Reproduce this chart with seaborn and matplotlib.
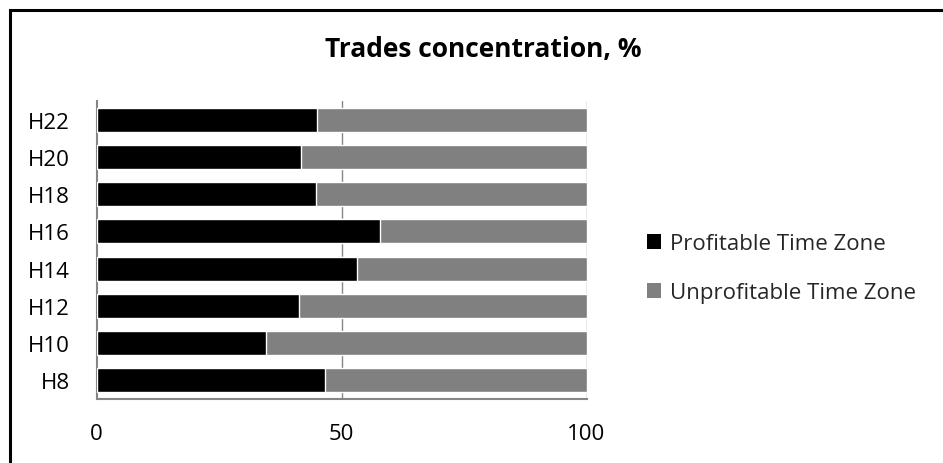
import matplotlib
matplotlib.use("Agg")
import matplotlib.pyplot as plt
from matplotlib.patches import Patch, Rectangle
import seaborn as sns
import pandas as pd

hours = ["H22", "H20", "H18", "H16", "H14", "H12", "H10", "H8"]
profitable = [45.0, 41.8, 44.7, 57.9, 53.2, 41.4, 34.5, 46.7]
unprofitable = [55.0, 58.2, 55.3, 42.1, 46.8, 58.6, 65.5, 53.3]
series_names = ["Profitable Time Zone", "Unprofitable Time Zone"]
x_ticks = [0, 50, 100]

df = pd.DataFrame({"hour": hours, "profitable": profitable, "unprofitable": unprofitable})
df["total"] = df["profitable"] + df["unprofitable"]

sns.set_theme(style="white")
plt.rcParams["font.family"] = ["Open Sans", "DejaVu Sans"]

fig = plt.figure(figsize=(9.43, 4.64), dpi=100)
ax = fig.add_axes([96.5 / 943, 1 - 400 / 464, 490 / 943, 298 / 464])

grid_color = "#868686"
for x in x_ticks[1:]:
    ax.axvline(x, color=grid_color, lw=1.0, zorder=0)

# stacked bars: grey total underneath, black profitable share on top
sns.barplot(data=df, y="hour", x="total", order=hours, orient="h",
            color="#808080", saturation=1, width=0.64, ax=ax, zorder=2)
sns.barplot(data=df, y="hour", x="profitable", order=hours, orient="h",
            color="#000000", saturation=1, width=0.64, ax=ax, zorder=3)

ax.set_xlim(0, 100)
ax.set_ylim(7.5, -0.5)
ax.set_xticks(x_ticks)
ax.set_xticklabels([str(t) for t in x_ticks])
ax.set_xlabel("")
ax.set_ylabel("")
ax.tick_params(axis="both", length=0, labelsize=16, colors="#000000")
ax.tick_params(axis="x", pad=17)
ax.tick_params(axis="y", pad=19)
for side in ["top", "right"]:
    ax.spines[side].set_visible(False)
for side in ["left", "bottom"]:
    ax.spines[side].set_color(grid_color)
    ax.spines[side].set_linewidth(1.5)

fig.text(0.5125, 1 - 50 / 464, "Trades concentration, %", ha="center", va="center",
         fontsize=19, fontweight="bold", color="#000000")

handles = [Patch(facecolor="#000000", edgecolor="none"),
           Patch(facecolor="#808080", edgecolor="none")]
fig.legend(handles, series_names, loc="center left",
           bbox_to_anchor=(638 / 943, 1 - 269 / 464), frameon=False,
           fontsize=16, handlelength=0.65, handleheight=0.65,
           handletextpad=0.4, labelspacing=1.25, borderaxespad=0)

fig.patches.append(Rectangle((9.5 / 943, -0.05), 1.0, 1 - 10.5 / 464 + 0.05,
                             transform=fig.transFigure, fill=False,
                             edgecolor="#000000", lw=2.2))

fig.savefig("out.png", dpi=100)
